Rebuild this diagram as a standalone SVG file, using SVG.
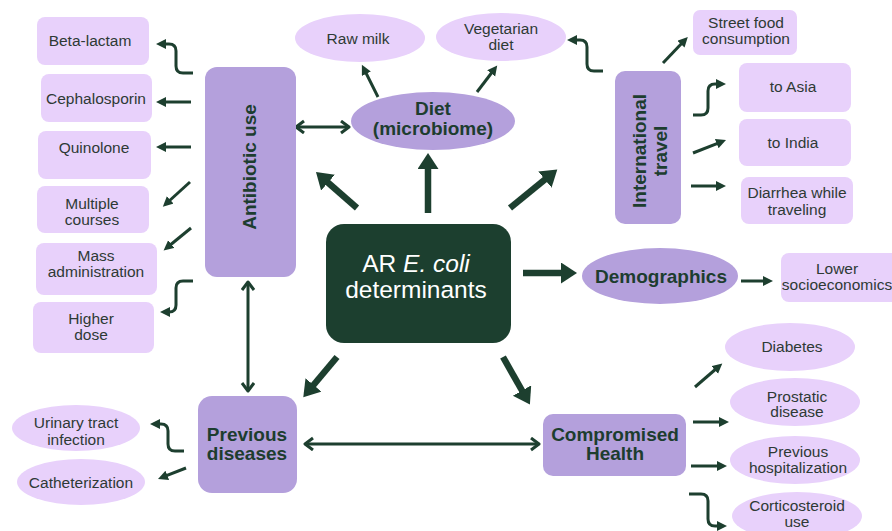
<svg xmlns="http://www.w3.org/2000/svg" width="892" height="531" viewBox="0 0 892 531">
<defs>
<style>
.lt{fill:#e8d1fb;}
.md{fill:#b4a0dc;}
.t{font-family:"Liberation Sans",Arial,sans-serif;font-size:15.5px;fill:#2e3a35;text-anchor:middle;}
.b{font-family:"Liberation Sans",Arial,sans-serif;font-size:19px;font-weight:bold;fill:#1d3d2f;text-anchor:middle;}
.w{font-family:"Liberation Sans",Arial,sans-serif;font-size:24.5px;fill:#ffffff;text-anchor:middle;}
.thin{fill:none;stroke:#1d3f2f;stroke-width:3;}
.thick{fill:none;stroke:#1d3f2f;stroke-width:6.5;}
</style>
<marker id="ah" markerUnits="userSpaceOnUse" markerWidth="11" markerHeight="11" refX="3" refY="5" orient="auto">
<path d="M0,0 L10,5 L0,10 z" fill="#1d3f2f"/>
</marker>
<marker id="ahb" markerUnits="userSpaceOnUse" markerWidth="17" markerHeight="22" refX="4" refY="10.5" orient="auto">
<path d="M0,0 L16,10.5 L0,21 z" fill="#1d3f2f"/>
</marker>
<marker id="chev" markerUnits="userSpaceOnUse" markerWidth="12" markerHeight="16" refX="9" refY="7" orient="auto-start-reverse">
<path d="M1,1 L9,7 L1,13" fill="none" stroke="#1d3f2f" stroke-width="3" stroke-linejoin="round"/>
</marker>
</defs>
<rect width="892" height="531" fill="#ffffff"/>

<g id="connectors">
<path class="thick" d="M428,213 L428,165" marker-end="url(#ahb)"/>
<path class="thick" d="M357,208 L325,180" marker-end="url(#ahb)"/>
<path class="thick" d="M510,208 L548,177" marker-end="url(#ahb)"/>
<path class="thick" d="M523,273 L565,273" marker-end="url(#ahb)"/>
<path class="thick" d="M337,357 L311,388" marker-end="url(#ahb)"/>
<path class="thick" d="M503,357 L524,394" marker-end="url(#ahb)"/>
<path class="thin" d="M193,73 H183 Q176,73 176,66 V51 Q176,44 169,44 H163" marker-end="url(#ah)"/>
<path class="thin" d="M191,102 H163" marker-end="url(#ah)"/>
<path class="thin" d="M191,147 H163" marker-end="url(#ah)"/>
<path class="thin" d="M190,182 L168,202" marker-end="url(#ah)"/>
<path class="thin" d="M191,228 L169,246" marker-end="url(#ah)"/>
<path class="thin" d="M193,281 H183 Q176,281 176,288 V305 Q176,312 169,312 H167" marker-end="url(#ah)"/>
<path class="thin" d="M296,127 H349" marker-start="url(#chev)" marker-end="url(#chev)"/>
<path class="thin" d="M248,282 V391" marker-start="url(#chev)" marker-end="url(#chev)"/>
<path class="thin" d="M305,444 H539" marker-start="url(#chev)" marker-end="url(#chev)"/>
<path class="thin" d="M378,97 L365,71" marker-end="url(#ah)"/>
<path class="thin" d="M477,92 L493,71" marker-end="url(#ah)"/>
<path class="thin" d="M603,71 H594 Q587,71 587,64 V47 Q587,40 580,40 H574" marker-end="url(#ah)"/>
<path class="thin" d="M663,63 L683,42" marker-end="url(#ah)"/>
<path class="thin" d="M693,115 H701 Q708,115 708,108 V91 Q708,84 715,84 H719" marker-end="url(#ah)"/>
<path class="thin" d="M693,153 L719.5,142.6" marker-end="url(#ah)"/>
<path class="thin" d="M691,186 H719" marker-end="url(#ah)"/>
<path class="thin" d="M741,281 H766" marker-end="url(#ah)"/>
<path class="thin" d="M695,387 L717,368" marker-end="url(#ah)"/>
<path class="thin" d="M693,422 H722" marker-end="url(#ah)"/>
<path class="thin" d="M691,466 H720" marker-end="url(#ah)"/>
<path class="thin" d="M689,494 H701 Q708,494 708,501 V519 Q708,526 715,526 H720" marker-end="url(#ah)"/>
<path class="thin" d="M184,451 H175 Q168,451 168,444 V431 Q168,424 161,424 H157" marker-end="url(#ah)"/>
<path class="thin" d="M186,468 L164.5,476.4" marker-end="url(#ah)"/>
</g>

<g id="center">
<rect x="326" y="224" width="185" height="119" rx="18" fill="#1c3f2f"/>
<text class="w" x="416" y="272">AR <tspan font-style="italic">E. coli</tspan></text>
<text class="w" x="416" y="298">determinants</text>
</g>

<g id="antibiotic-use">
<rect class="md" x="205" y="67" width="91" height="210" rx="12"/>
<text class="b" transform="translate(249,167) rotate(-90)" x="0" y="6.8">Antibiotic use</text>
</g>
<g id="beta-lactam"><rect class="lt" x="37" y="17" width="112" height="48" rx="8"/><text class="t" x="90" y="45.5">Beta-lactam</text></g>
<g id="cephalosporin"><rect class="lt" x="41" y="74" width="111" height="48" rx="8"/><text class="t" x="96" y="103.5">Cephalosporin</text></g>
<g id="quinolone"><rect class="lt" x="38" y="131" width="113" height="48" rx="8"/><text class="t" x="94" y="152.5">Quinolone</text></g>
<g id="multiple-courses"><rect class="lt" x="37" y="186" width="112" height="47" rx="8"/><text class="t" x="92" y="209">Multiple</text><text class="t" x="92" y="225">courses</text></g>
<g id="mass-administration"><rect class="lt" x="36" y="243" width="121" height="52" rx="8"/><text class="t" x="96" y="261">Mass</text><text class="t" x="96" y="277">administration</text></g>
<g id="higher-dose"><rect class="lt" x="33" y="302" width="121" height="51" rx="8"/><text class="t" x="91" y="324">Higher</text><text class="t" x="91" y="340">dose</text></g>

<g id="diet">
<ellipse class="md" cx="433" cy="121" rx="82" ry="29"/>
<text class="b" x="433" y="115">Diet</text>
<text class="b" x="433" y="135">(microbiome)</text>
</g>
<g id="raw-milk"><ellipse class="lt" cx="360" cy="38" rx="65" ry="24"/><text class="t" x="358" y="44">Raw milk</text></g>
<g id="vegetarian-diet"><ellipse class="lt" cx="501" cy="37" rx="65" ry="24"/><text class="t" x="501" y="34">Vegetarian</text><text class="t" x="501" y="50">diet</text></g>

<g id="international-travel">
<rect class="md" x="615" y="71" width="66" height="153" rx="10"/>
<text class="b" transform="translate(648,151) rotate(-90)" x="0" y="-2.4">International</text>
<text class="b" transform="translate(648,151) rotate(-90)" x="0" y="18.6">travel</text>
</g>
<g id="street-food"><rect class="lt" x="693" y="10" width="104" height="45" rx="7"/><text class="t" x="746" y="28">Street food</text><text class="t" x="746" y="44">consumption</text></g>
<g id="to-asia"><rect class="lt" x="739" y="63" width="112" height="49" rx="8"/><text class="t" x="793" y="91.5">to Asia</text></g>
<g id="to-india"><rect class="lt" x="739" y="119" width="112" height="47" rx="8"/><text class="t" x="793" y="148">to India</text></g>
<g id="diarrhea"><rect class="lt" x="741" y="177" width="112" height="47" rx="8"/><text class="t" x="797" y="198">Diarrhea while</text><text class="t" x="797" y="214.5">traveling</text></g>

<g id="demographics">
<ellipse class="md" cx="660" cy="276" rx="78" ry="28"/>
<text class="b" x="661" y="283">Demographics</text>
</g>
<g id="lower-socioeconomics"><rect class="lt" x="781" y="253" width="118" height="49" rx="8"/><text class="t" x="837" y="274">Lower</text><text class="t" x="837" y="290">socioeconomics</text></g>

<g id="previous-diseases">
<rect class="md" x="198" y="396" width="99" height="97" rx="14"/>
<text class="b" x="247" y="441">Previous</text>
<text class="b" x="247" y="460">diseases</text>
</g>
<g id="urinary-tract"><ellipse class="lt" cx="76" cy="428" rx="64" ry="23"/><text class="t" x="76" y="428">Urinary tract</text><text class="t" x="76" y="444.5">infection</text></g>
<g id="catheterization"><ellipse class="lt" cx="81" cy="482" rx="64" ry="23"/><text class="t" x="81" y="488">Catheterization</text></g>

<g id="compromised-health">
<rect class="md" x="543" y="414" width="143" height="62" rx="10"/>
<text class="b" x="615" y="441">Compromised</text>
<text class="b" x="615" y="460">Health</text>
</g>
<g id="diabetes"><ellipse class="lt" cx="790" cy="347" rx="65" ry="24"/><text class="t" x="792" y="352">Diabetes</text></g>
<g id="prostatic"><ellipse class="lt" cx="795" cy="402" rx="65" ry="24"/><text class="t" x="797" y="401.5">Prostatic</text><text class="t" x="797" y="417">disease</text></g>
<g id="hospitalization"><ellipse class="lt" cx="795" cy="460" rx="65" ry="24"/><text class="t" x="798" y="457">Previous</text><text class="t" x="798" y="472.5">hospitalization</text></g>
<g id="corticosteroid"><ellipse class="lt" cx="797" cy="516" rx="65" ry="24"/><text class="t" x="797" y="511">Corticosteroid</text><text class="t" x="797" y="527">use</text></g>
</svg>
